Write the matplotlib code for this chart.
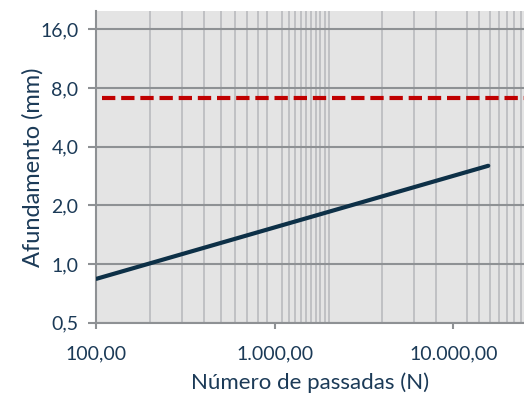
import matplotlib
matplotlib.use("Agg")
from matplotlib import pyplot as plt

# dados
passadas = [100, 15700]
afundamento = [0.84, 3.19]
limite_afundamento = 7.1

x_ticks = [100, 1000, 10000]
x_labels = ['100,00', '1.000,00', '10.000,00']
y_ticks = [0.5, 1, 2, 4, 8, 16]
y_labels = ['0,5', '1,0', '2,0', '4,0', '8,0', '16,0']
x_grade = list(range(200, 1000, 100)) + list(range(1100, 2100, 100)) + \
    [4000, 6000, 8000] + list(range(12000, 26000, 2000))

cor_texto = '#1B3A57'
cor_eixo = '#8E9194'

plt.rcParams['font.family'] = ['Lato', 'DejaVu Sans']

fig = plt.figure(figsize=(5.24, 3.97), dpi=100)
ax = fig.add_axes([0.184, 0.187, 0.816, 0.785])
ax.set_facecolor('#E4E4E4')

ax.set_xscale('log')
ax.set_yscale('log', base=2)
ax.set_xlim(100, 24900)
ax.set_ylim(0.5, 19.8)

ax.plot(passadas, afundamento, color='#0D3047', lw=3.0, solid_capstyle='round', zorder=4)
ax.axhline(limite_afundamento, xmin=0.012, color='#C00000', lw=3.0,
           dashes=(3.2, 1.4), zorder=4)

ax.set_xticks(x_ticks)
ax.set_xticklabels(x_labels)
ax.set_xticks(x_grade, minor=True)
ax.set_xticklabels([], minor=True)
ax.set_yticks(y_ticks)
ax.set_yticklabels(y_labels)
ax.yaxis.set_minor_locator(matplotlib.ticker.NullLocator())

ax.grid(which='minor', axis='x', color='#BDBEC1', lw=1.3, zorder=1)
ax.grid(which='major', axis='y', color=cor_eixo, lw=1.5, zorder=2)
ax.set_axisbelow(True)

for lado in ['top', 'right']:
    ax.spines[lado].set_visible(False)
for lado in ['left', 'bottom']:
    ax.spines[lado].set_color(cor_eixo)
    ax.spines[lado].set_linewidth(1.5)

ax.tick_params(axis='x', which='major', length=4.5, width=1.5, color=cor_eixo,
               labelsize=14, labelcolor=cor_texto, pad=12)
ax.tick_params(axis='x', which='minor', length=0)
ax.tick_params(axis='y', which='major', length=6, width=1.5, color=cor_eixo,
               labelsize=14, labelcolor=cor_texto, pad=7)

ax.set_xlabel('Número de passadas (N)', fontsize=16, color=cor_texto, labelpad=7)
ax.set_ylabel('Afundamento (mm)', fontsize=17, color=cor_texto, va='center')
ax.yaxis.set_label_coords(-0.1485, 0.5)

fig.savefig('out.png', dpi=100)
